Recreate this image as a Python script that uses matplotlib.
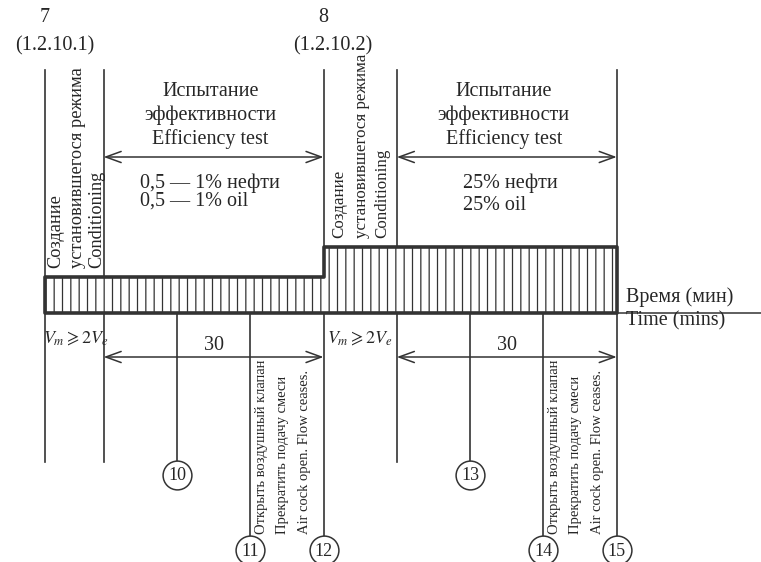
import matplotlib
matplotlib.use("Agg")
import matplotlib.pyplot as plt

plt.rcParams['font.family'] = ['Liberation Serif', 'DejaVu Serif']
plt.rcParams['mathtext.fontset'] = 'stix'
plt.rcParams['hatch.linewidth'] = 0.9
plt.rcParams['hatch.color'] = '#444444'

# event times along the time axis (minutes)
events = [0, 8, 18, 28, 38, 48, 58, 68, 78]
stage_start = [0, 38]          # conditioning starts (steps 7 and 8)
test_start = [8, 48]           # efficiency test starts
test_end = [38, 78]
test_len = [30, 30]
stage_num = ['7', '8']
stage_ref = ['(1.2.10.1)', '(1.2.10.2)']
oil_ru = ['0,5 — 1% нефти', '25% нефти']
oil_en = ['0,5 — 1% oil', '25% oil']
bar_level = [36, 66]           # bar height, drawn in screen units
circle_t = [18, 28, 38, 58, 68, 78]
circle_no = ['10', '11', '12', '13', '14', '15']
circle_low = [False, True, True, False, True, True]

ink = '#333333'
txt = '#262626'

fig = plt.figure(figsize=(7.61, 5.62), dpi=100)
ax = fig.add_axes([0, 0, 1, 1])
px = 7.33  # pixels per minute
x0 = 45
ax.set_xlim(-x0 / px, (761 - x0) / px)
ax.set_ylim(562, 0)
ax.axis('off')

base_y = 313
line_top = 70

# hatched bar with a step
bx = [stage_start[0], stage_start[1], stage_start[1], test_end[1]]
by = [base_y - bar_level[0], base_y - bar_level[0], base_y - bar_level[1], base_y - bar_level[1]]
ax.fill_between(bx, base_y, by, facecolor='white', hatch='||', edgecolor=ink, linewidth=2.6, zorder=3)
ax.plot([test_end[1], ax.get_xlim()[1]], [base_y, base_y], color=ink, lw=1.1)

# vertical lines
for t in [0, 8, 48]:
    ax.plot([t, t], [line_top, 462], color=ink, lw=1.2, zorder=2)
for t, low in zip(circle_t, circle_low):
    cy = 550 if low else 475
    top = line_top if t in test_end else base_y
    ax.plot([t, t], [top, cy - 14], color=ink, lw=1.2, zorder=2)
    ax.scatter([t], [cy], s=430, facecolor='white', edgecolor=ink, linewidth=1.1, zorder=4)
for t, low, n in zip(circle_t, circle_low, circle_no):
    cy = 550 if low else 475
    ax.text(t, cy + 1, n, ha='center', va='center', fontsize=13, color=txt, zorder=5)

arrow = dict(arrowstyle='<->,head_length=0.55,head_width=0.2', color=ink, lw=1.1,
             shrinkA=0, shrinkB=0, mutation_scale=20)

cond_off = [[1.4, 4.5, 7.1], [2.2, 5.2, 8.0]]
cond_bottom = [268, 238]
cond_size = [13.2, 12.2]
oil_x = [13.0, 57.0]
oil_y2 = [201, 206]
vm_x = [4.2, 43.0]

for i in range(2):
    s = stage_start[i]
    ax.text(s, 18, stage_num[i], ha='center', va='center', fontsize=14.5, color=txt)
    ax.text(s + 1.3, 46, stage_ref[i], ha='center', va='center', fontsize=14.5, color=txt)

    # conditioning labels (vertical)
    for off, line in zip(cond_off[i], ['Создание', 'установившегося режима', 'Conditioning']):
        ax.text(s + off, cond_bottom[i], line, rotation=90, rotation_mode='anchor',
                ha='left', va='center', fontsize=cond_size[i], color=txt)

    a, b = test_start[i], test_end[i]
    mid = (a + b) / 2
    ax.annotate('', xy=(a, 157), xytext=(b, 157), arrowprops=arrow)
    ax.text(mid - 0.4, 91, 'Испытание', ha='center', va='center', fontsize=14.5, color=txt)
    ax.text(mid - 0.4, 115, 'эффективности', ha='center', va='center', fontsize=14.5, color=txt)
    ax.text(mid - 0.4, 139, 'Efficiency test', ha='center', va='center', fontsize=14.5, color=txt)
    ax.text(oil_x[i], 183, oil_ru[i], ha='left', va='center', fontsize=14.5, color=txt)
    ax.text(oil_x[i], oil_y2[i], oil_en[i], ha='left', va='center', fontsize=14.5, color=txt)

    # below the bar
    ax.text(vm_x[i], 338, r'$V_m \geqslant 2V_e$', ha='center', va='center', fontsize=13, color=txt)
    ax.annotate('', xy=(a, 357), xytext=(b, 357), arrowprops=arrow)
    ax.text(mid, 345, str(test_len[i]), ha='center', va='center', fontsize=14.5, color=txt)

    stop = b - 10
    for off, line in zip([1.5, 4.4, 7.4], ['Открыть воздушный клапан', 'Прекратить подачу смеси',
                                           'Air cock open. Flow ceases.']):
        ax.text(stop + off, 534, line, rotation=90, rotation_mode='anchor',
                ha='left', va='center', fontsize=10.5, color=txt)

ax.text(78 + 1.3, 297, 'Время (мин)', ha='left', va='center', fontsize=14.5, color=txt)
ax.text(78 + 1.3, 321, 'Time (mins)', ha='left', va='center', fontsize=14.5, color=txt)

fig.savefig('out.png', dpi=100, facecolor='white')
